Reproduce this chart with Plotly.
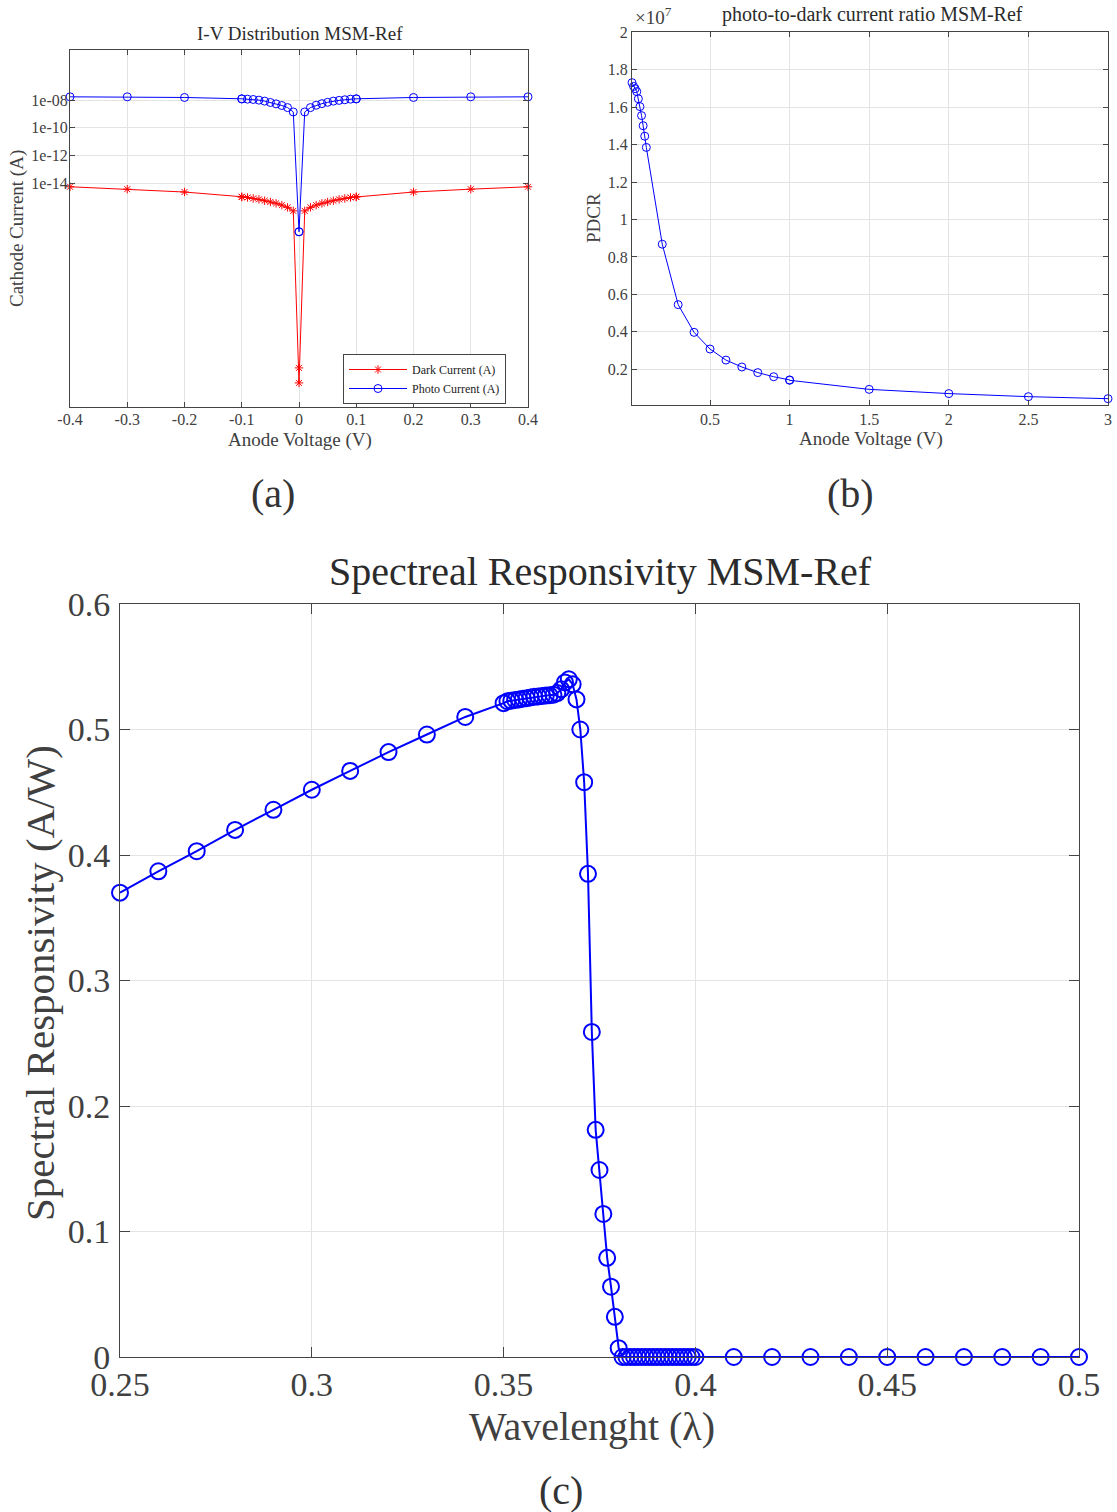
import plotly.graph_objects as go

# ---------------- data ----------------
# (a) I-V distribution
iv_voltage = [-0.4, -0.3, -0.2, -0.1, -0.1, -0.09, -0.08, -0.07, -0.06, -0.05, -0.04, -0.03, -0.02, -0.01, 0.0,
              0.0, 0.01, 0.02, 0.03, 0.04, 0.05, 0.06, 0.07, 0.08, 0.09, 0.1, 0.1, 0.2, 0.3, 0.4]
dark_current = [5.5e-15, 3.7e-15, 2.3e-15, 1.05e-15, 1.0e-15, 9.3e-16, 7.9e-16, 6.8e-16, 5.4e-16, 4.4e-16, 3.5e-16,
                2.6e-16, 1.8e-16, 1.0e-16, 4.5e-28,
                3.7e-29, 1.0e-16, 1.8e-16, 2.6e-16, 3.5e-16, 4.4e-16, 5.4e-16, 6.8e-16, 7.9e-16, 9.3e-16, 1.0e-15,
                1.05e-15, 2.3e-15, 3.7e-15, 5.5e-15]
photo_current = [1.74e-8, 1.74e-8, 1.56e-8, 1.25e-8, 1.22e-8, 1.18e-8, 1.12e-8, 1.0e-8, 8.5e-9, 6.8e-9, 5.4e-9,
                 4.1e-9, 2.9e-9, 1.4e-9, 3.1e-18,
                 3.1e-18, 1.4e-9, 2.9e-9, 4.3e-9, 5.6e-9, 7.0e-9, 8.5e-9, 9.6e-9, 1.07e-8, 1.18e-8, 1.22e-8,
                 1.25e-8, 1.56e-8, 1.74e-8, 1.74e-8]
iv_xticks = [-0.4, -0.3, -0.2, -0.1, 0, 0.1, 0.2, 0.3, 0.4]
iv_xticklabels = ["-0.4", "-0.3", "-0.2", "-0.1", "0", "0.1", "0.2", "0.3", "0.4"]
iv_yticks = [1e-8, 1e-10, 1e-12, 1e-14]
iv_yticklabels = ["1e-08", "1e-10", "1e-12", "1e-14"]

# (b) photo-to-dark current ratio
pdcr_voltage = [0.01, 0.02, 0.03, 0.04, 0.05, 0.06, 0.07, 0.08, 0.09, 0.1,
                0.2, 0.3, 0.4, 0.5, 0.6, 0.7, 0.8, 0.9, 1.0, 1.0, 1.5, 2.0, 2.5, 3.0]
pdcr_e7 = [1.731, 1.711, 1.699, 1.683, 1.645, 1.603, 1.555, 1.501, 1.445, 1.385,
           0.868, 0.545, 0.397, 0.308, 0.249, 0.212, 0.182, 0.160, 0.143, 0.141, 0.0925, 0.070, 0.0535, 0.0428]
pdcr_xticks = [0.5, 1, 1.5, 2, 2.5, 3]
pdcr_xticklabels = ["0.5", "1", "1.5", "2", "2.5", "3"]
pdcr_yticks_e7 = [0.2, 0.4, 0.6, 0.8, 1.0, 1.2, 1.4, 1.6, 1.8, 2.0]
pdcr_yticklabels = ["0.2", "0.4", "0.6", "0.8", "1", "1.2", "1.4", "1.6", "1.8", "2"]

# (c) spectral responsivity
wl_coarse_a = [0.25, 0.26, 0.27, 0.28, 0.29, 0.30, 0.31, 0.32, 0.33, 0.34]
resp_coarse_a = [0.370, 0.387, 0.403, 0.420, 0.436, 0.452, 0.467, 0.482, 0.496, 0.510]
wl_fine = [0.350, 0.351, 0.352, 0.353, 0.354, 0.355, 0.356, 0.357, 0.358, 0.359,
           0.360, 0.361, 0.362, 0.363, 0.364, 0.365, 0.366, 0.367, 0.368, 0.369,
           0.370, 0.371, 0.372, 0.373, 0.374, 0.375, 0.376, 0.377, 0.378, 0.379,
           0.380, 0.381, 0.382, 0.383, 0.384, 0.385, 0.386, 0.387, 0.388, 0.389,
           0.390, 0.391, 0.392, 0.393, 0.394, 0.395, 0.396, 0.397, 0.398, 0.399, 0.400]
resp_fine = [0.521, 0.5225, 0.523, 0.5235, 0.524, 0.5245, 0.525, 0.5255, 0.526, 0.5263,
             0.5267, 0.527, 0.5273, 0.5277, 0.529, 0.532, 0.5375, 0.540, 0.536, 0.524,
             0.500, 0.458, 0.385, 0.259, 0.181, 0.149, 0.114, 0.079, 0.056, 0.032,
             0.007, 0.0, 0.0, 0.0, 0.0, 0.0, 0.0, 0.0, 0.0, 0.0,
             0.0, 0.0, 0.0, 0.0, 0.0, 0.0, 0.0, 0.0, 0.0, 0.0, 0.0]
wl_coarse_b = [0.41, 0.42, 0.43, 0.44, 0.45, 0.46, 0.47, 0.48, 0.49, 0.50]
resp_coarse_b = [0.0, 0.0, 0.0, 0.0, 0.0, 0.0, 0.0, 0.0, 0.0, 0.0]
sr_xticks = [0.25, 0.3, 0.35, 0.4, 0.45, 0.5]
sr_xticklabels = ["0.25", "0.3", "0.35", "0.4", "0.45", "0.5"]
sr_yticks = [0, 0.1, 0.2, 0.3, 0.4, 0.5, 0.6]
sr_yticklabels = ["0", "0.1", "0.2", "0.3", "0.4", "0.5", "0.6"]

# ---------------- layout helpers ----------------
W, H = 1117, 1512
FONT = "Liberation Serif"
TXT = "#404040"
AXC = "#454545"
GRID = "#e3e3e3"


def px(x):
    return x / W


def py(y):
    return 1 - y / H


def axis(domain, rng, tickvals, ticktext, size, ticklen, standoff, axtype="linear", anchor=None):
    d = dict(domain=domain, range=rng, type=axtype, tickmode="array", tickvals=tickvals, ticktext=ticktext,
             showline=True, linecolor=AXC, linewidth=1, mirror="ticks", ticks="inside", ticklen=ticklen,
             tickcolor=AXC, tickwidth=1, showgrid=True, gridcolor=GRID, gridwidth=1, zeroline=False,
             automargin=False, ticklabelstandoff=standoff,
             tickfont=dict(family=FONT, size=size, color=TXT), fixedrange=True)
    if anchor:
        d["anchor"] = anchor
    return d


fig = go.Figure()

# (a)
fig.add_trace(go.Scatter(x=iv_voltage, y=dark_current, mode="lines+markers", name="Dark Current (A)",
                         line=dict(color="#ff0000", width=1),
                         marker=dict(symbol="asterisk-open", size=7, color="#ff0000",
                                     line=dict(color="#ff0000", width=1)),
                         xaxis="x", yaxis="y", cliponaxis=False))
fig.add_trace(go.Scatter(x=iv_voltage, y=photo_current, mode="lines+markers", name="Photo Current (A)",
                         line=dict(color="#0000ff", width=1),
                         marker=dict(symbol="circle-open", size=8, color="#0000ff",
                                     line=dict(color="#0000ff", width=1)),
                         xaxis="x", yaxis="y", cliponaxis=False))

# (b)
fig.add_trace(go.Scatter(x=pdcr_voltage, y=[v * 1e7 for v in pdcr_e7], mode="lines+markers", showlegend=False,
                         line=dict(color="#0000ff", width=1),
                         marker=dict(symbol="circle-open", size=8, color="#0000ff",
                                     line=dict(color="#0000ff", width=1)),
                         xaxis="x2", yaxis="y2", cliponaxis=False))

# (c)
fig.add_trace(go.Scatter(x=wl_coarse_a + wl_fine + wl_coarse_b, y=resp_coarse_a + resp_fine + resp_coarse_b,
                         mode="lines+markers", showlegend=False,
                         line=dict(color="#0000ff", width=2),
                         marker=dict(symbol="circle-open", size=16, color="#0000ff",
                                     line=dict(color="#0000ff", width=2)),
                         xaxis="x3", yaxis="y3", cliponaxis=False))

layout = dict(
    width=W, height=H, margin=dict(l=0, r=0, t=0, b=0, pad=0, autoexpand=False),
    paper_bgcolor="white", plot_bgcolor="white",
    xaxis=axis([px(70), px(528)], [-0.4, 0.4], iv_xticks, iv_xticklabels, 16, 5, -2, anchor="y"),
    yaxis=axis([py(406.7), py(49.5)], [-30.15, -4.34], iv_yticks, iv_yticklabels, 16, 5, -2, "log", anchor="x"),
    xaxis2=axis([px(632), px(1108)], [0.01, 3], pdcr_xticks, pdcr_xticklabels, 16, 5, 0, anchor="y2"),
    yaxis2=axis([py(405), py(32.3)], [0.009e7, 2e7], [v * 1e7 for v in pdcr_yticks_e7], pdcr_yticklabels, 16, 5,
                0, anchor="x2"),
    xaxis3=axis([px(120), px(1079)], [0.25, 0.5], sr_xticks, sr_xticklabels, 34, 10, -3, anchor="y3"),
    yaxis3=axis([py(1357), py(604)], [0, 0.6], sr_yticks, sr_yticklabels, 34, 10, 2, anchor="x3"),
    legend=dict(x=px(343), y=py(354), xanchor="left", yanchor="top", bgcolor="white",
                bordercolor=AXC, borderwidth=1, font=dict(family=FONT, size=12, color="#222222"),
                tracegroupgap=0, itemwidth=58),
    showlegend=True,
)
fig.update_layout(**layout)


def ann(text, x, y, size, color=TXT, angle=0, xanchor="center"):
    fig.add_annotation(text=text, x=px(x), y=py(y), xref="paper", yref="paper", showarrow=False,
                       xanchor=xanchor, yanchor="middle", textangle=angle,
                       font=dict(family=FONT, size=size, color=color))


# titles & labels
ann("I-V Distribution MSM-Ref", 300, 34, 19, "#2b2b2b")
ann("Anode Voltage (V)", 300, 440, 19)
ann("Cathode Current (A)", 17, 229, 19, angle=-90)

ann("photo-to-dark current ratio MSM-Ref", 872, 15, 20, "#2b2b2b")
ann("Anode Voltage (V)", 871, 439, 19)
ann("PDCR", 593, 218, 19, angle=-90)
ann("×10<sup>7</sup>", 633, 16, 19, xanchor="left")

ann("Spectreal Responsivity MSM-Ref", 600, 571, 40, "#2b2b2b")
ann("Wavelenght (λ)", 592, 1426, 40)
ann("Spectral Responsivity (A/W)", 40, 983, 41, angle=-90)

# captions
ann("(a)", 273, 493, 40, "#333333")
ann("(b)", 850, 493, 40, "#333333")
ann("(c)", 561, 1490, 40, "#333333")

fig.write_html("out.html", config={"displayModeBar": False},
               post_script="document.body.style.margin='0';document.body.style.overflow='hidden';")
